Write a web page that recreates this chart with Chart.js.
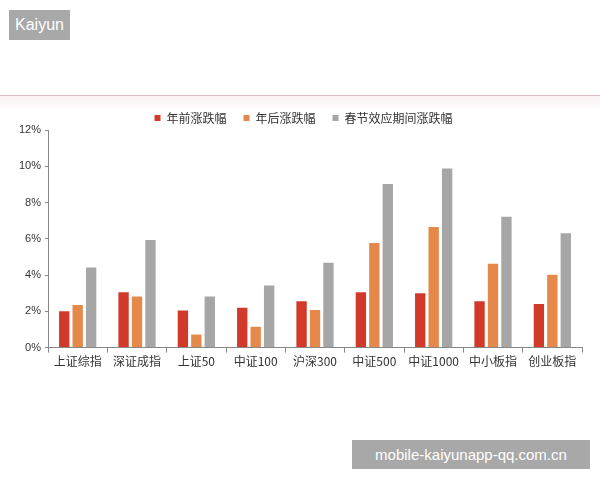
<!DOCTYPE html>
<html>
<head>
<meta charset="utf-8">
<script src="https://cdn.jsdelivr.net/npm/chart.js@4"></script>
<style>
    body { margin: 0; width: 600px; height: 480px; background: #fff; position: relative; overflow: hidden; font-family: "Liberation Sans", Arial, sans-serif; }
    .badge { position: absolute; left: 9px; top: 10px; width: 61px; height: 30px; background: #a8a8a8; color: #fff; font-size: 16px; line-height: 30px; text-align: center; }
    .rule { position: absolute; left: 0; top: 95px; width: 600px; height: 14px; border-top: 1px solid #dfb9bd; background: linear-gradient(#fbf1f2, #fff); }
    .wm { position: absolute; left: 352px; top: 440px; width: 238px; height: 29px; background: #a8a8a8; color: #fff; font-size: 15px; line-height: 29px; text-align: center; }
    #wrap { position: absolute; left: 0; top: 95px; width: 600px; height: 276px; }
</style>
</head>
<body>
<div class="badge">Kaiyun</div>
<div class="rule"></div>
<div id="wrap"><canvas id="chart"></canvas></div>
<div class="wm">mobile-kaiyunapp-qq.com.cn</div>
<script>
// Categories
const indices = ['上证综指', '深证成指', '上证50', '中证100', '沪深300', '中证500', '中证1000', '中小板指', '创业板指'];

// Series values (%)
const beforeHoliday = [2.0, 3.05, 2.05, 2.2, 2.55, 3.05, 3.0, 2.55, 2.4];
const afterHoliday = [2.35, 2.82, 0.72, 1.15, 2.08, 5.77, 6.65, 4.62, 4.02];
const festivalPeriod = [4.42, 5.93, 2.82, 3.43, 4.68, 9.02, 9.88, 7.22, 6.3];

// Tick labels
const yTicks = [0, 2, 4, 6, 8, 10, 12];

const cjkFont = '"Noto Sans CJK SC", "Noto Sans", sans-serif';

// keep the legend compact vertically while leaving wide gaps between items
const legendHeight = {
    id: 'legendHeight',
    beforeInit(chart) {
        const fit = chart.legend.fit;
        chart.legend.fit = function () {
            fit.call(this);
            this.height = 35;
        };
    },
    afterLayout(chart) {
        // legend sits a little right of centre in the original
        chart.legend.left += 10;
    }
};

const ctx = document.getElementById('chart').getContext('2d');
new Chart(ctx, {
    type: 'bar',
    data: {
        labels: indices,
        datasets: [
            { label: '年前涨跌幅', data: beforeHoliday, backgroundColor: '#d13a2b' },
            { label: '年后涨跌幅', data: afterHoliday, backgroundColor: '#e5894a' },
            { label: '春节效应期间涨跌幅', data: festivalPeriod, backgroundColor: '#a6a6a6' }
        ]
    },
    plugins: [legendHeight],
    options: {
        responsive: true,
        maintainAspectRatio: false,
        animation: false,
        categoryPercentage: 0.68,
        barPercentage: 0.77,
        layout: { padding: { left: 15, right: 18, top: 0, bottom: 0 } },
        plugins: {
            legend: {
                position: 'top',
                labels: {
                    boxWidth: 6,
                    boxHeight: 6,
                    padding: 17,
                    color: '#333',
                    font: { family: cjkFont, size: 12 }
                }
            },
            tooltip: { enabled: false }
        },
        scales: {
            x: {
                grid: { display: true, drawOnChartArea: false, tickLength: 5, color: '#888', offset: true },
                border: { color: '#888' },
                ticks: { color: '#333', font: { family: cjkFont, size: 12 }, maxRotation: 0, padding: 2 }
            },
            y: {
                min: 0,
                max: 12,
                afterBuildTicks: axis => { axis.ticks = yTicks.map(v => ({ value: v })); },
                grid: { display: true, drawOnChartArea: false, tickLength: 3, color: '#888' },
                border: { color: '#888' },
                ticks: {
                    color: '#333',
                    font: { family: '"Liberation Sans", Arial, sans-serif', size: 11 },
                    padding: 4,
                    callback: v => v + '%'
                }
            }
        }
    }
});
</script>
</body>
</html>
